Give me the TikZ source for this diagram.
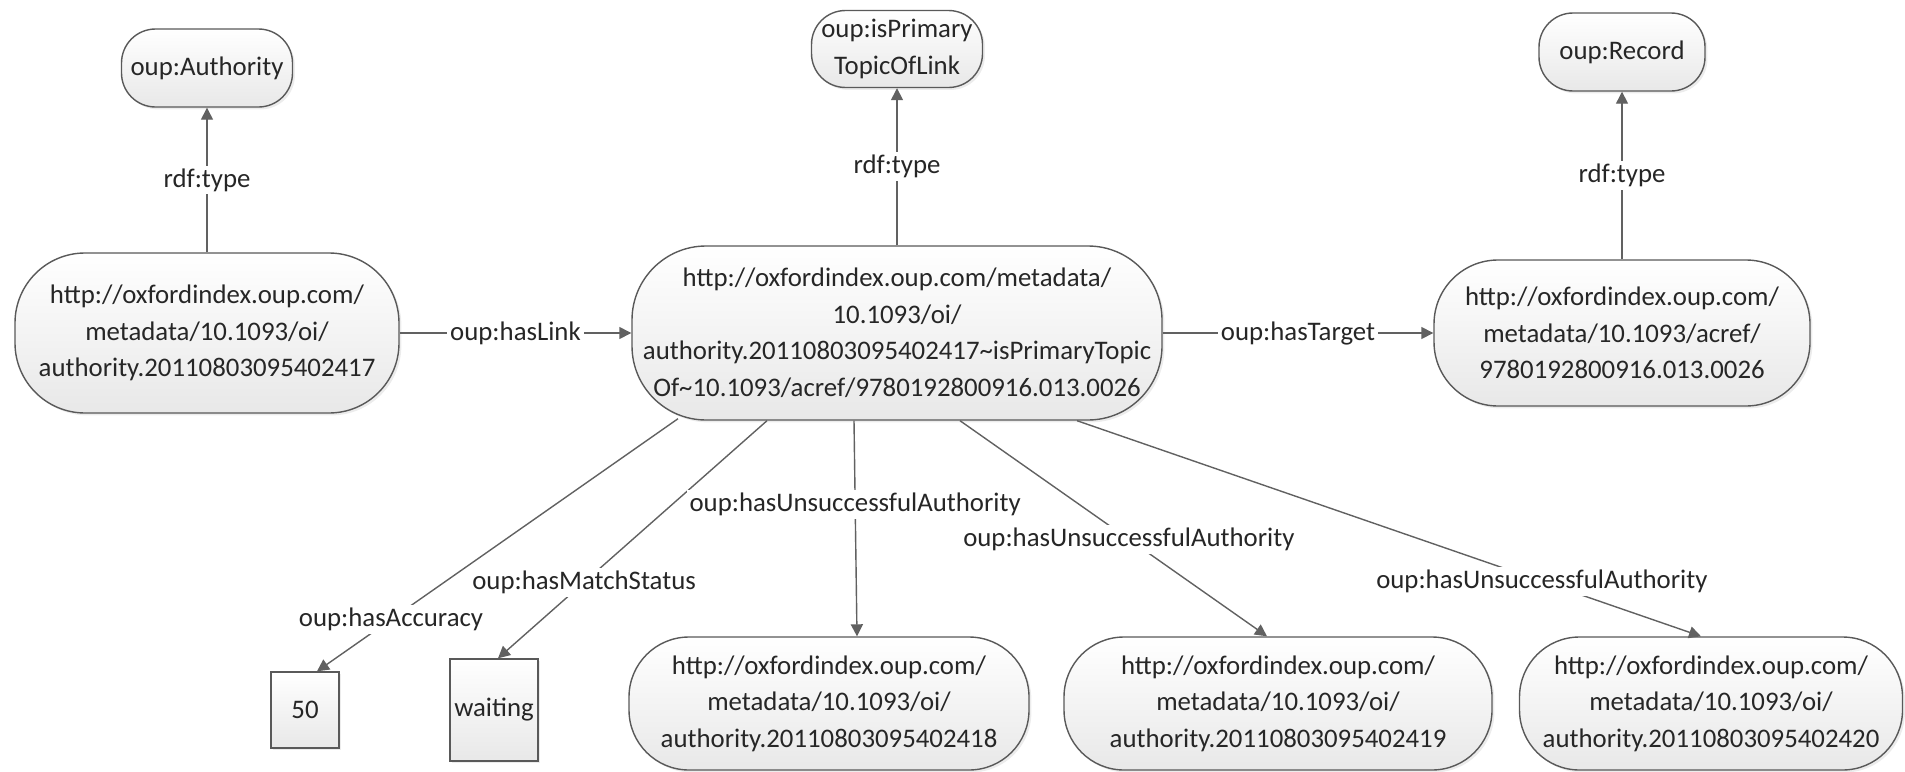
\documentclass[tikz,border=0pt]{standalone}
\usepackage{fontspec}
\setmainfont{Carlito}
\usetikzlibrary{arrows.meta,calc,shadows}

\begin{document}
\begin{tikzpicture}[x=0.5pt, y=-0.5pt,
    font=\fontsize{13.4pt}{18.25pt}\selectfont,
    res/.style ={draw=black!65, line width=0.7pt, top color=white, bottom color=black!9,
                 align=center, inner sep=0pt, text=black!85,
                 drop shadow={opacity=0.15, shadow xshift=1.2pt, shadow yshift=-1.2pt}},
    cls/.style ={res, rounded corners=17pt, minimum width=85.5pt, minimum height=39pt},
    uri/.style ={res, rounded corners=30pt, minimum width=200pt, minimum height=66.5pt},
    lit/.style ={res, minimum width=34pt, minimum height=38pt},
    rel/.style ={draw=black!62, line width=0.7pt, -{Triangle[length=6pt, width=6pt]}},
    lbl/.style ={fill=white, inner sep=1.5pt, text=black!85}]
   \useasboundingbox (0,0) rectangle (1905,771);
   % classes
   \node[cls] (auth) at (207,68) {oup:Authority};
   \node[cls, minimum height=38.5pt] (prim) at (897,49) {oup:isPrimary\\TopicOfLink};
   \node[cls, minimum width=83pt] (rec) at (1622,52) {oup:Record};
   % resources
   \node[uri, minimum width=192pt, minimum height=80pt, rounded corners=35pt] (src) at (207,333)
      {http://oxfordindex.oup.com/\\metadata/10.1093/oi/\\authority.20110803095402417};
   \node[uri, minimum width=265pt, minimum height=87pt, rounded corners=37pt] (link) at (897,333)
      {http://oxfordindex.oup.com/metadata/\\10.1093/oi/\\authority.20110803095402417\textasciitilde isPrimaryTopic\\Of\textasciitilde 10.1093/acref/9780192800916.013.0026};
   \node[uri, minimum width=188pt, minimum height=73pt, rounded corners=32pt] (tgt) at (1622,333)
      {http://oxfordindex.oup.com/\\metadata/10.1093/acref/\\9780192800916.013.0026};
   % literals
   \node[lit] (acc) at (305,710) {50};
   \node[lit, minimum width=44pt, minimum height=51pt] (stat) at (494,710) {waiting};
   % unsuccessful authorities
   \node[uri] (una) at (829,703.5) {http://oxfordindex.oup.com/\\metadata/10.1093/oi/\\authority.20110803095402418};
   \node[uri, minimum width=214pt] (unb) at (1278,703.5) {http://oxfordindex.oup.com/\\metadata/10.1093/oi/\\authority.20110803095402419};
   \node[uri, minimum width=191.5pt] (unc) at (1711,703.5) {http://oxfordindex.oup.com/\\metadata/10.1093/oi/\\authority.20110803095402420};
   % properties
   \draw[rel] (src) to node[lbl] {rdf:type} (auth);
   \draw[rel] (link) to node[lbl] {rdf:type} (prim);
   \draw[rel] (tgt) to node[lbl] {rdf:type} (rec);
   \draw[rel] (src) to node[lbl] {oup:hasLink} (link);
   \draw[rel] (link) to node[lbl] {oup:hasTarget} (tgt);
   \draw[rel] ($(link.south)+(-219,-2)$) to node[lbl, pos=0.795] {oup:hasAccuracy} ($(acc.north)+(12,0)$);
   \draw[rel] ($(link.south)+(-130,0)$) to node[lbl, pos=0.68] {oup:hasMatchStatus} ($(stat.north)+(4,0)$);
   \draw[rel] ($(link.south)+(-43,0)$) to node[lbl, pos=0.39] {oup:hasUnsuccessfulAuthority} ($(una.north)+(28,0)$);
   \draw[rel] ($(link.south)+(63,0)$) to node[lbl, pos=0.55] {oup:hasUnsuccessfulAuthority} ($(unb.north)+(-11,0)$);
   \draw[rel] ($(link.south)+(180,0)$) to node[lbl, pos=0.745] {oup:hasUnsuccessfulAuthority} ($(unc.north)+(-10,0)$);
\end{tikzpicture}
\end{document}
